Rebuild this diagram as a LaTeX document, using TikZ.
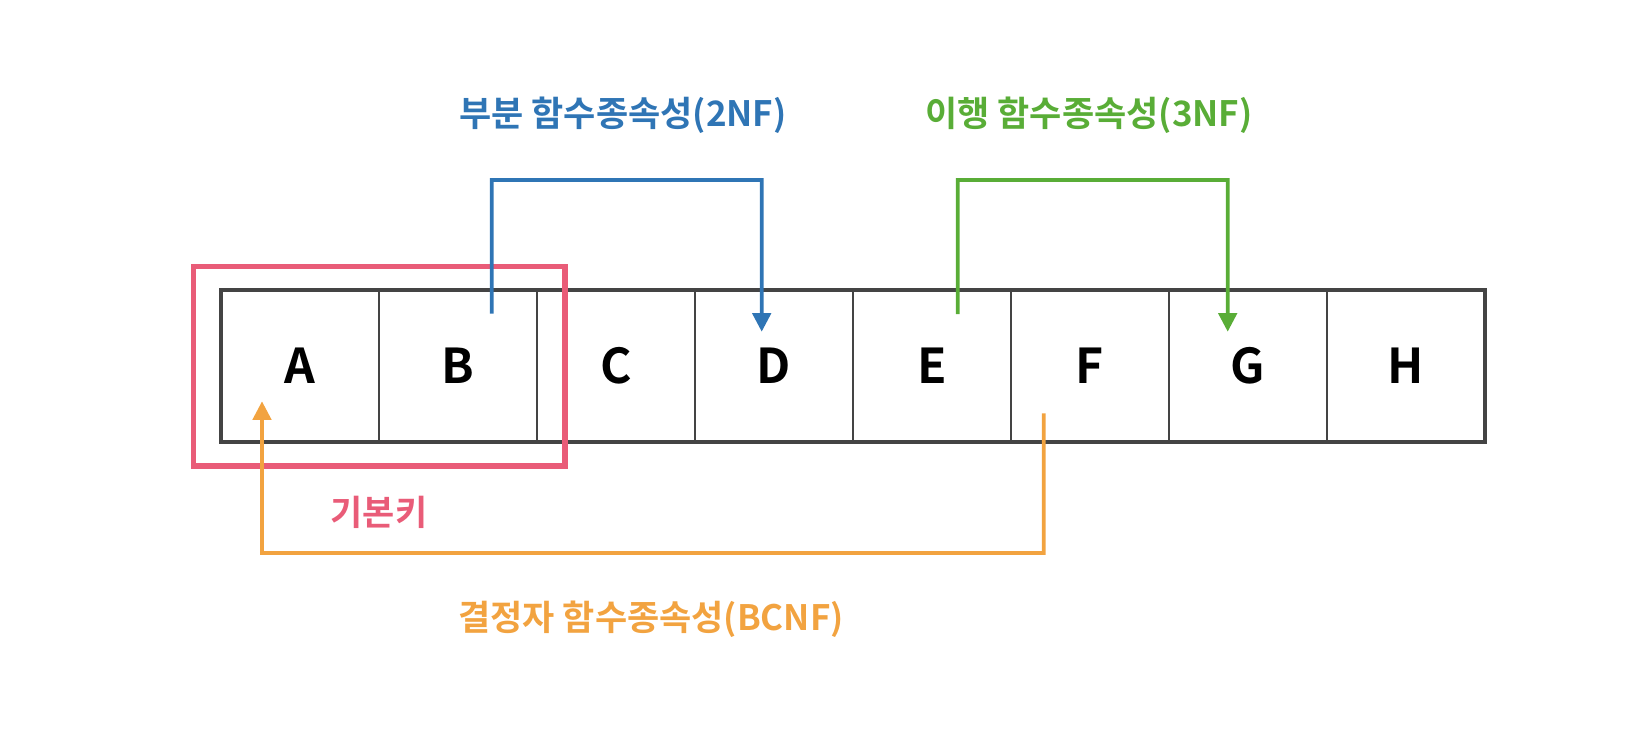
\documentclass[tikz,border=0pt]{standalone}
\usepackage{fontspec}
\setmainfont{Noto Sans CJK KR}[BoldFont={Noto Sans CJK KR Bold}]
\usetikzlibrary{positioning,fit,arrows.meta}

\definecolor{keypink}{RGB}{233,92,120}
\definecolor{nfblue}{RGB}{47,117,181}
\definecolor{nfgreen}{RGB}{89,173,55}
\definecolor{nforange}{RGB}{242,163,64}
\definecolor{cellgray}{RGB}{68,68,68}

\tikzset{
 cellbox/.style={draw=cellgray,line width=0.85pt,minimum width=79pt,minimum height=76pt,outer sep=0pt,inner sep=0pt,font=\fontsize{24pt}{24pt}\bfseries},
 deplabel/.style={font=\fontsize{17.5pt}{17.5pt}\bfseries},
 depline/.style={line width=1.85pt,-{Triangle[width=9.2pt,length=9.3pt]}}
}

\begin{document}
\begin{tikzpicture}[x=0.5pt,y=-0.5pt]
 \useasboundingbox (0,0) rectangle (1650,736);
 % attribute cells
 \node[cellbox] (cA) at (300,366) {A};
 \node[cellbox,right=0pt of cA] (cB) {B};
 \node[cellbox,right=0pt of cB] (cC) {C};
 \node[cellbox,right=0pt of cC] (cD) {D};
 \node[cellbox,right=0pt of cD] (cE) {E};
 \node[cellbox,right=0pt of cE] (cF) {F};
 \node[cellbox,right=0pt of cF] (cG) {G};
 \node[cellbox,right=0pt of cG] (cH) {H};
 \draw[cellgray,line width=2pt] (cA.north west) rectangle (cH.south east);
 % primary key
 \node[draw=keypink,line width=2.8pt,fit=(cA)(cB),inner xsep=13.85pt,inner ysep=11.85pt] (pk) {};
 \node[deplabel,text=keypink] (pklabel) at (379,512) {기본키};
 % partial dependency
 \coordinate (bs) at ([xshift=16.85pt,yshift=-11.75pt]cB.north);
 \coordinate (be) at ([xshift=-6.15pt,yshift=-20.85pt]cD.north);
 \coordinate (btop) at (491.7,180);
 \draw[depline,nfblue] (bs) -- (btop) -| (be);
 \node[deplabel,text=nfblue] (nf2) at (623,115) {부분 함수종속성(2NF)};
 % transitive dependency
 \coordinate (gs) at ([xshift=12.85pt,yshift=-12pt]cE.north);
 \coordinate (ge) at ([xshift=-10.15pt,yshift=-20.85pt]cG.north);
 \coordinate (gtop) at (957.7,180);
 \draw[depline,nfgreen] (gs) -- (gtop) -| (ge);
 \node[deplabel,text=nfgreen] (nf3) at (1089,115) {이행 함수종속성(3NF)};
 % determinant dependency
 \coordinate (os) at ([xshift=-23.15pt,yshift=14.35pt]cF.south);
 \coordinate (oe) at ([xshift=-19pt,yshift=20.35pt]cA.south);
 \coordinate (obot) at (1043.7,553);
 \draw[depline,nforange] (os) -- (obot) -| (oe);
 \node[deplabel,text=nforange] (bcnf) at (651,619) {결정자 함수종속성(BCNF)};
\end{tikzpicture}
\end{document}
